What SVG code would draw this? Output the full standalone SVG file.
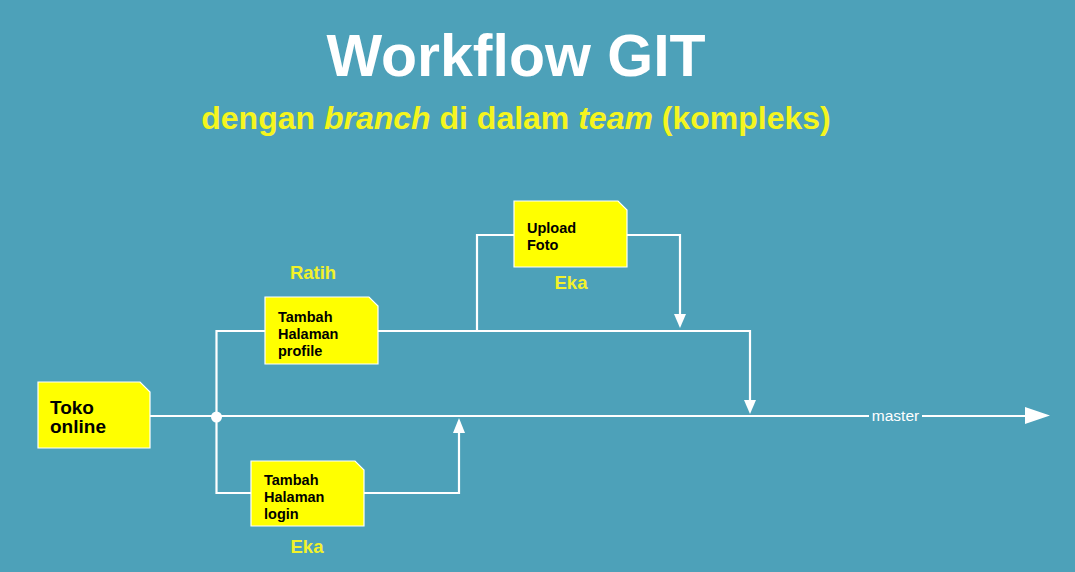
<svg xmlns="http://www.w3.org/2000/svg" width="1075" height="572" viewBox="0 0 1075 572">
<defs>
<style>
.bg{fill:#4da1b9}
.node{fill:#ffff00;stroke:#ffffff;stroke-width:1.2}
.nt{font-family:"Liberation Sans",Arial,sans-serif;font-weight:bold;fill:#000000}
.wire{fill:none;stroke:#ffffff;stroke-width:2.2}
.who{font-family:"Liberation Sans",Arial,sans-serif;font-weight:bold;fill:#f2f22a;font-size:18.5px}
.ah{fill:#ffffff}
</style>
</defs>
<rect class="bg" x="0" y="0" width="1075" height="572"/>
<g id="title">
<text x="516" y="76" text-anchor="middle" font-family="Liberation Sans, Arial, sans-serif" font-weight="bold" font-size="59" fill="#ffffff">Workflow GIT</text>
<text x="516" y="129" text-anchor="middle" font-family="Liberation Sans, Arial, sans-serif" font-weight="bold" font-size="32" fill="#f5f51e">dengan <tspan font-style="italic">branch</tspan> di dalam <tspan font-style="italic">team</tspan> (kompleks)</text>
</g>
<g id="connectors">
<line class="wire" x1="150" y1="416" x2="1028" y2="416" stroke-width="2.6"/>
<polygon class="ah" points="1025,407 1050,415.5 1025,424"/>
<polyline class="wire" points="265,331 216.5,331 216.5,493 251,493"/>
<polyline class="wire" points="378,331 750,331 750,402"/>
<polygon class="ah" points="744,400 756,400 750,414"/>
<polyline class="wire" points="477,331 477,235 514,235"/>
<polyline class="wire" points="627,235 680,235 680,316"/>
<polygon class="ah" points="674,314 686,314 680,328"/>
<polyline class="wire" points="364,493 459,493 459,432"/>
<polygon class="ah" points="453,433 465,433 459,418"/>
<circle cx="216.5" cy="417" r="5.5" fill="#ffffff"/>
<rect class="bg" x="869" y="408" width="53" height="16"/>
<text x="895.5" y="421" text-anchor="middle" font-family="Liberation Sans, Arial, sans-serif" font-size="15.5" fill="#ffffff">master</text>
</g>
<g id="node-toko">
<polygon class="node" points="38,382 140,382 150,392 150,448 38,448"/>
<text class="nt" font-size="19"><tspan x="50" y="414">Toko</tspan><tspan x="50" y="433">online</tspan></text>
</g>
<g id="node-profile">
<polygon class="node" points="265,297 369,297 378,306 378,364 265,364"/>
<text class="nt" font-size="14.5"><tspan x="278" y="322">Tambah</tspan><tspan x="278" y="339">Halaman</tspan><tspan x="278" y="356">profile</tspan></text>
</g>
<g id="node-login">
<polygon class="node" points="251,461 355,461 364,470 364,526 251,526"/>
<text class="nt" font-size="14.5"><tspan x="264" y="485">Tambah</tspan><tspan x="264" y="502">Halaman</tspan><tspan x="264" y="519">login</tspan></text>
</g>
<g id="node-upload">
<polygon class="node" points="514,201 618,201 627,210 627,267 514,267"/>
<text class="nt" font-size="14.5"><tspan x="527" y="233">Upload</tspan><tspan x="527" y="250">Foto</tspan></text>
</g>
<g id="labels">
<text class="who" x="313" y="279" text-anchor="middle">Ratih</text>
<text class="who" x="571" y="289" text-anchor="middle">Eka</text>
<text class="who" x="307" y="553" text-anchor="middle">Eka</text>
</g>
</svg>
